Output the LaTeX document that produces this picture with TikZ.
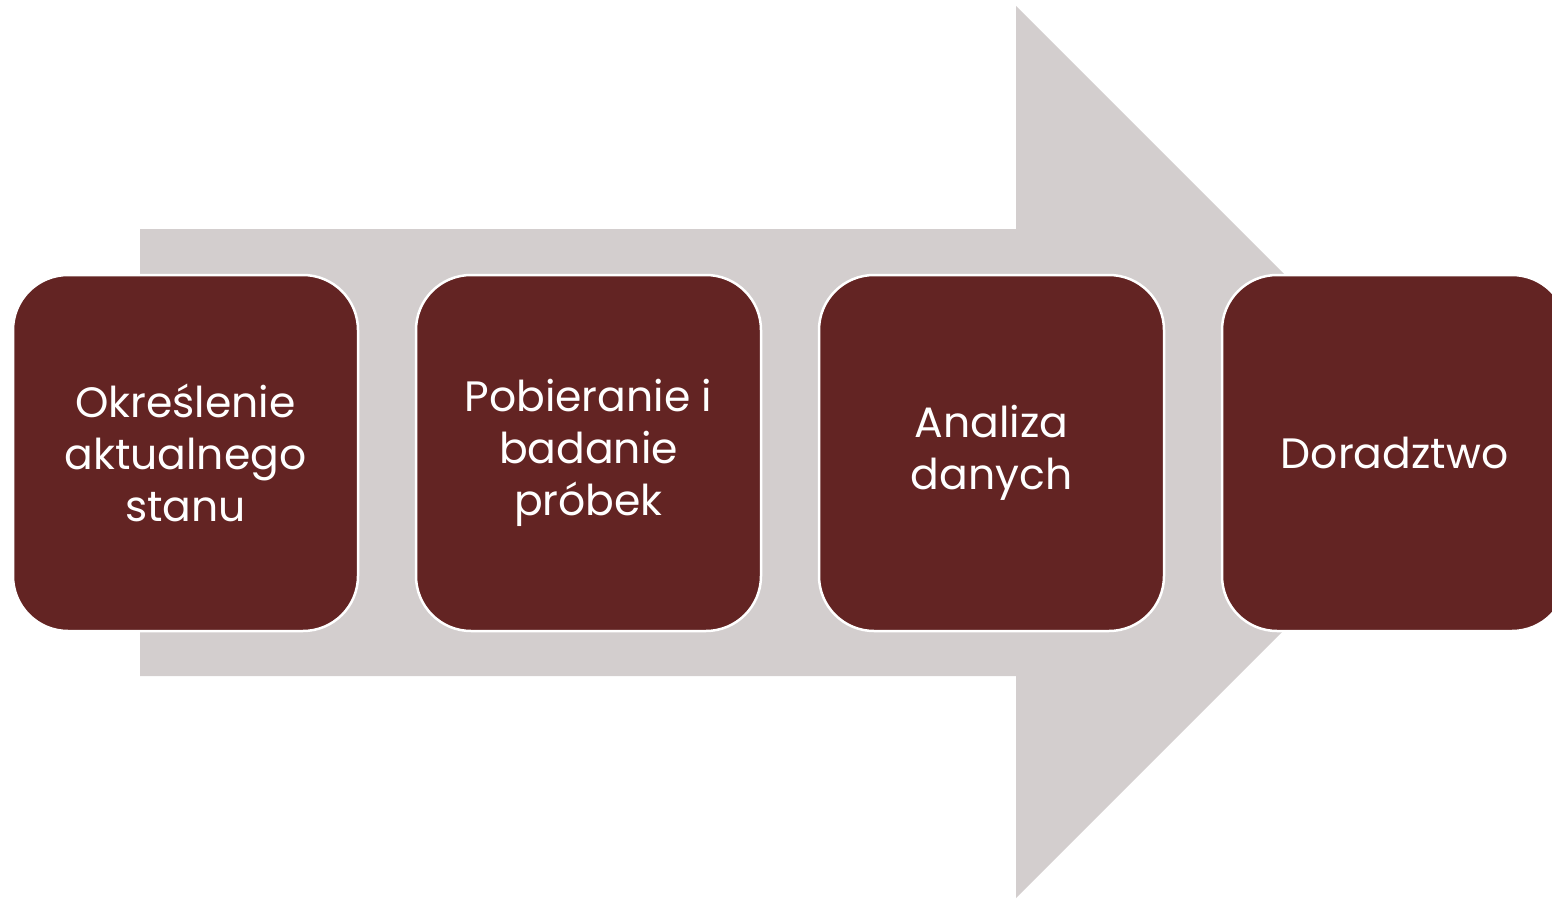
\documentclass[tikz,border=0pt]{standalone}
\usepackage{fontspec}
\setmainfont{Poppins}
\definecolor{arrowgray}{HTML}{D3CECE}
\definecolor{boxred}{HTML}{632423}
\begin{document}
\begin{tikzpicture}[x=1pt,y=-1pt,
  stepbox/.style={draw=white, line width=2.5pt, fill=boxred, rounded corners=55pt,
    minimum width=345pt, minimum height=356pt, inner sep=0pt,
    text=white, align=center, font=\fontsize{42.5}{52}\selectfont}]
\useasboundingbox (0,0) rectangle (1552,899);
% large background arrow
\fill[arrowgray] (140,229) -- (1016,229) -- (1016,6) -- (1462,452)
  -- (1016,898) -- (1016,676) -- (140,676) -- cycle;
% process steps
\node[stepbox] (s1) at (185.5,453) {Określenie\\aktualnego\\stanu};
\node[stepbox] (s2) at (588.5,453) {Pobieranie i\\badanie\\próbek};
\node[stepbox] (s3) at (991.5,453) {Analiza\\danych};
\node[stepbox] (s4) at (1394.5,453) {Doradztwo};
\end{tikzpicture}
\end{document}
